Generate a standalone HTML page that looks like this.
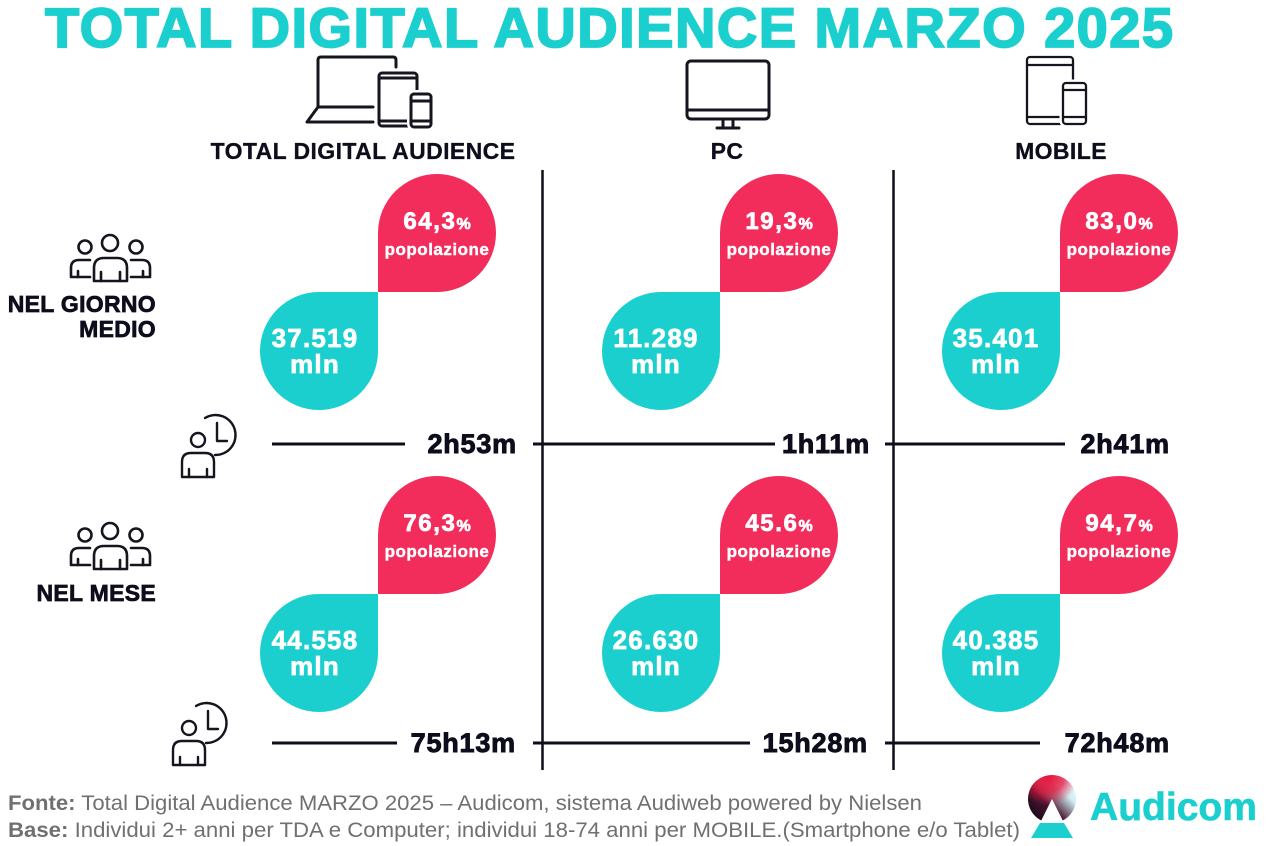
<!DOCTYPE html>
<html><head><meta charset="utf-8"><style>
html,body{margin:0;padding:0;background:#fff;}
svg{display:block;}
text{font-family:"Liberation Sans",Arial,sans-serif;}
</style></head><body>
<svg width="1270" height="846" viewBox="0 0 1270 846" xmlns="http://www.w3.org/2000/svg">
<defs>
<linearGradient id="lg" x1="0" y1="1" x2="1" y2="0">
<stop offset="0" stop-color="#05050f"/><stop offset="0.4" stop-color="#4a1530"/><stop offset="0.7" stop-color="#cfeff2"/><stop offset="1" stop-color="#ffffff"/>
</linearGradient>
<radialGradient id="rg" cx="0.42" cy="0.02" r="0.62">
<stop offset="0" stop-color="#e8123a"/><stop offset="0.55" stop-color="#e8123a" stop-opacity="0.75"/><stop offset="1" stop-color="#e8123a" stop-opacity="0"/>
</radialGradient>
</defs>
<rect width="1270" height="846" fill="#fff"/>

<!-- Title -->
<text x="609" y="47" text-anchor="middle" font-size="56" font-weight="bold" fill="#1ccfcf" stroke="#1ccfcf" stroke-width="1.8" textLength="1128" lengthAdjust="spacing">TOTAL DIGITAL AUDIENCE MARZO 2025</text>

<!-- Icons -->
<g fill="none" stroke="#15151f" stroke-width="3" stroke-linecap="round" stroke-linejoin="round">
 <path d="M396,67 V60 Q396,57 393,57 H321 Q318,57 318,60 V107 H373"/>
 <path d="M318,107 L307,122 H373"/>
 <rect x="379" y="73" width="38" height="53" rx="3" fill="#fff"/>
 <line x1="379" y1="78" x2="417" y2="78"/>
 <line x1="379" y1="121" x2="408" y2="121"/>
 <rect x="411" y="94" width="20" height="33" rx="3" fill="#fff" stroke="#fff" stroke-width="8"/>
 <rect x="411" y="94" width="20" height="33" rx="3" fill="#fff"/>
 <line x1="411" y1="101" x2="431" y2="101"/>
 <line x1="411" y1="121" x2="431" y2="121"/>
 <rect x="687" y="61" width="82" height="58" rx="4"/>
 <line x1="687" y1="110" x2="769" y2="110"/>
 <path d="M723,119 V128 M733,119 V128"/>
 <line x1="717" y1="128" x2="739" y2="128"/>
</g>
<g fill="none" stroke="#15151f" stroke-width="2.3" stroke-linecap="round" stroke-linejoin="round">
 <rect x="1027" y="57" width="46" height="67" rx="3"/>
 <line x1="1027" y1="65" x2="1073" y2="65"/>
 <line x1="1027" y1="117" x2="1060" y2="117"/>
 <rect x="1063" y="83" width="23" height="41" rx="3" fill="#fff" stroke="#fff" stroke-width="7"/>
 <rect x="1063" y="83" width="23" height="41" rx="3" fill="#fff"/>
 <line x1="1063" y1="90" x2="1086" y2="90"/>
 <line x1="1063" y1="117" x2="1086" y2="117"/>
</g>

<!-- Column headers -->
<g font-size="23" font-weight="bold" fill="#0d0d1c" text-anchor="middle" letter-spacing="0.4" stroke="#0d0d1c" stroke-width="0.3">
 <text x="363" y="159">TOTAL DIGITAL AUDIENCE</text>
 <text x="727" y="159">PC</text>
 <text x="1061" y="159">MOBILE</text>
</g>

<!-- Vertical dividers -->
<g stroke="#0d0d1c" stroke-width="2.5">
 <line x1="542.5" y1="170" x2="542.5" y2="770"/>
 <line x1="893.5" y1="170" x2="893.5" y2="770"/>
</g>

<!-- People icons -->
<g id="ppl" fill="none" stroke="#15151f" stroke-width="2.6" stroke-linecap="round" stroke-linejoin="round">
 <circle cx="110" cy="243" r="8"/>
 <circle cx="85" cy="247" r="6.5"/>
 <circle cx="136" cy="247" r="6.5"/>
 <path d="M94,281 V268 Q94,258 104,258 H117 Q127,258 127,268 V281 Z"/>
 <path d="M101,281 V272 M120,281 V272"/>
 <path d="M90,260 H79 Q71,260 71,268 V277 H90"/>
 <path d="M78,277 V271"/>
 <path d="M131,260 H142 Q150,260 150,268 V277 H131"/>
 <path d="M143,277 V271"/>
</g>
<use href="#ppl" transform="translate(0,288)"/>

<!-- Clock person icons -->
<g id="clk" fill="none" stroke="#15151f" stroke-width="2.4" stroke-linecap="round" stroke-linejoin="round">
 <path d="M205,418 A20,20 0 1 1 215,455"/>
 <path d="M217,423 V441 H227"/>
 <circle cx="198" cy="440" r="7"/>
 <path d="M182,477 V462 Q182,453 191,453 H205 Q214,453 214,462 V477 Z"/>
 <path d="M189,477 V469 M207,477 V469"/>
</g>
<use href="#clk" transform="translate(-9,288)"/>

<!-- Row labels -->
<g font-size="23" font-weight="bold" fill="#0d0d1c" text-anchor="end" letter-spacing="0.3" stroke="#0d0d1c" stroke-width="0.7">
 <text x="156" y="312">NEL GIORNO</text>
 <text x="156" y="337">MEDIO</text>
 <text x="156" y="601">NEL MESE</text>
</g>

<!-- Blobs -->
<g>
 <path d="M378,292 V233 A59,59 0 0 1 496,233 A59,59 0 0 1 437,292 Z" fill="#f22d5b"/>
 <path d="M378,292 V351 A59,59 0 0 1 260,351 A59,59 0 0 1 319,292 Z" fill="#1ccfcf"/>
 <path d="M720,292 V233 A59,59 0 0 1 838,233 A59,59 0 0 1 779,292 Z" fill="#f22d5b"/>
 <path d="M720,292 V351 A59,59 0 0 1 602,351 A59,59 0 0 1 661,292 Z" fill="#1ccfcf"/>
 <path d="M1060,292 V233 A59,59 0 0 1 1178,233 A59,59 0 0 1 1119,292 Z" fill="#f22d5b"/>
 <path d="M1060,292 V351 A59,59 0 0 1 942,351 A59,59 0 0 1 1001,292 Z" fill="#1ccfcf"/>
 <path d="M378,594 V535 A59,59 0 0 1 496,535 A59,59 0 0 1 437,594 Z" fill="#f22d5b"/>
 <path d="M378,594 V653 A59,59 0 0 1 260,653 A59,59 0 0 1 319,594 Z" fill="#1ccfcf"/>
 <path d="M720,594 V535 A59,59 0 0 1 838,535 A59,59 0 0 1 779,594 Z" fill="#f22d5b"/>
 <path d="M720,594 V653 A59,59 0 0 1 602,653 A59,59 0 0 1 661,594 Z" fill="#1ccfcf"/>
 <path d="M1060,594 V535 A59,59 0 0 1 1178,535 A59,59 0 0 1 1119,594 Z" fill="#f22d5b"/>
 <path d="M1060,594 V653 A59,59 0 0 1 942,653 A59,59 0 0 1 1001,594 Z" fill="#1ccfcf"/>
</g>

<!-- Blob texts -->
<g fill="#fff" font-weight="bold" text-anchor="middle">
 <g font-size="24" letter-spacing="1.6" stroke="#fff" stroke-width="0.7">
  <text x="437" y="229">64,3<tspan font-size="16" letter-spacing="0">%</tspan></text>
  <text x="779" y="229">19,3<tspan font-size="16" letter-spacing="0">%</tspan></text>
  <text x="1119" y="229">83,0<tspan font-size="16" letter-spacing="0">%</tspan></text>
  <text x="437" y="531">76,3<tspan font-size="16" letter-spacing="0">%</tspan></text>
  <text x="779" y="531">45.6<tspan font-size="16" letter-spacing="0">%</tspan></text>
  <text x="1119" y="531">94,7<tspan font-size="16" letter-spacing="0">%</tspan></text>
 </g>
 <g font-size="17" letter-spacing="0.5" stroke="#fff" stroke-width="0.4">
  <text x="437" y="255">popolazione</text>
  <text x="779" y="255">popolazione</text>
  <text x="1119" y="255">popolazione</text>
  <text x="437" y="557">popolazione</text>
  <text x="779" y="557">popolazione</text>
  <text x="1119" y="557">popolazione</text>
 </g>
 <g font-size="26" letter-spacing="1.2" stroke="#fff" stroke-width="0.7">
  <text x="315" y="347">37.519</text>
  <text x="315" y="373">mln</text>
  <text x="656" y="347">11.289</text>
  <text x="656" y="373">mln</text>
  <text x="996" y="347">35.401</text>
  <text x="996" y="373">mln</text>
  <text x="315" y="649">44.558</text>
  <text x="315" y="675">mln</text>
  <text x="656" y="649">26.630</text>
  <text x="656" y="675">mln</text>
  <text x="996" y="649">40.385</text>
  <text x="996" y="675">mln</text>
 </g>
</g>

<!-- Time lines -->
<g stroke="#0d0d1c" stroke-width="3">
 <line x1="272" y1="444" x2="405" y2="444"/>
 <line x1="533" y1="444" x2="775" y2="444"/>
 <line x1="885" y1="444" x2="1065" y2="444"/>
 <line x1="272" y1="743" x2="397" y2="743"/>
 <line x1="533" y1="743" x2="750" y2="743"/>
 <line x1="885" y1="743" x2="1040" y2="743"/>
</g>
<g font-size="27" font-weight="bold" fill="#0d0d1c" text-anchor="end" letter-spacing="0.8" stroke="#0d0d1c" stroke-width="0.9">
 <text x="517" y="453">2h53m</text>
 <text x="870" y="453">1h11m</text>
 <text x="1170" y="453">2h41m</text>
 <text x="516" y="752">75h13m</text>
 <text x="868" y="752">15h28m</text>
 <text x="1170" y="752">72h48m</text>
</g>

<!-- Footer -->
<g font-size="21" fill="#707070">
 <text x="8" y="810" textLength="914" lengthAdjust="spacingAndGlyphs"><tspan font-weight="bold">Fonte:</tspan> Total Digital Audience MARZO 2025 – Audicom, sistema Audiweb powered by Nielsen</text>
 <text x="8" y="837" textLength="1012" lengthAdjust="spacingAndGlyphs"><tspan font-weight="bold">Base:</tspan>  Individui 2+ anni per TDA e Computer; individui 18-74 anni per MOBILE.(Smartphone e/o Tablet)</text>
</g>

<!-- Audicom logo -->
<circle cx="1052" cy="799" r="24" fill="url(#lg)"/>
<circle cx="1052" cy="799" r="24" fill="url(#rg)"/>
<path d="M1052,799 L1064,823 H1040 Z" fill="#fff"/>
<path d="M1040,823 H1064 L1073,838 H1031 Z" fill="#1ccfcf"/>
<text x="1090" y="820" font-size="39" font-weight="bold" fill="#1ccfcf" stroke="#1ccfcf" stroke-width="0.6" textLength="167" lengthAdjust="spacingAndGlyphs">Audicom</text>
</svg>
</body></html>
